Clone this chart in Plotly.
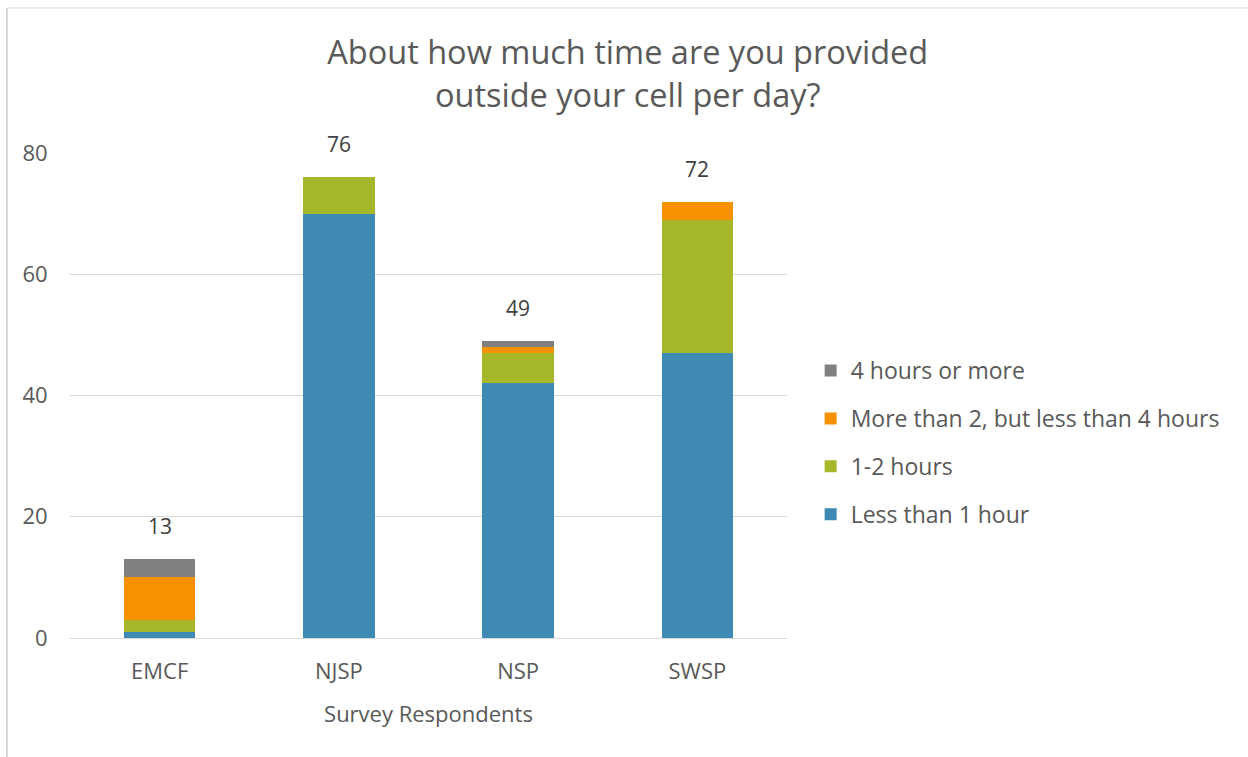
import plotly.graph_objects as go

categories = ["EMCF", "NJSP", "NSP", "SWSP"]
less_than_1 = [1, 70, 42, 47]
one_to_two = [2, 6, 5, 22]
two_to_four = [7, 0, 1, 3]
four_plus = [3, 0, 1, 0]
series_names = ["Less than 1 hour", "1-2 hours", "More than 2, but less than 4 hours", "4 hours or more"]
colors = ["#3F8AB5", "#A6B72A", "#F79100", "#808080"]
y_ticks = [0, 20, 40, 60, 80]

series = [less_than_1, one_to_two, two_to_four, four_plus]
totals = [sum(v) for v in zip(*series)]

font_family = "Open Sans, Liberation Sans, sans-serif"
text_color = "#595959"

fig = go.Figure()
for i, (name, vals, col) in enumerate(zip(series_names, series, colors)):
    fig.add_trace(go.Bar(
        x=categories, y=vals, name=name, marker=dict(color=col, line=dict(width=0)),
        width=0.4, legendgroup=str(i), legendrank=len(series_names) - i,
        hoverinfo="x+y+name",
    ))

for c, t in zip(categories, totals):
    fig.add_annotation(x=c, y=t, text=str(t), showarrow=False, yanchor="middle",
                       yshift=33, font=dict(size=21, color="#404040", family=font_family))

fig.update_layout(
    barmode="stack",
    width=1248, height=757,
    paper_bgcolor="white", plot_bgcolor="white",
    margin=dict(l=70, r=461, t=153, b=119, autoexpand=False),
    title=dict(text="About how much time are you provided<br>outside your cell per day?",
               x=0.503, xanchor="center", y=0.915, yanchor="top",
               font=dict(size=32.5, color=text_color, family=font_family)),
    font=dict(family=font_family, color=text_color),
    legend=dict(x=1.033, xanchor="left", y=0.403, yanchor="middle",
                traceorder="grouped", tracegroupgap=15,
                font=dict(size=23, color=text_color, family=font_family),
                itemwidth=30, bgcolor="rgba(0,0,0,0)"),
    showlegend=True,
    shapes=[
        dict(type="line", xref="paper", yref="paper", x0=-0.0879, x1=-0.0879,
             y0=-0.3, y1=1.299, line=dict(color="#D9D9D9", width=2)),
        dict(type="line", xref="paper", yref="paper", x0=-0.0879, x1=1.8,
             y0=1.299, y1=1.299, line=dict(color="#D9D9D9", width=1)),
    ],
)
fig.update_xaxes(showgrid=False, showline=True, linecolor="#D9D9D9", linewidth=1,
                 tickfont=dict(size=22, color=text_color), ticks="outside", tickcolor="white", ticklen=14,
                 title=dict(text="Survey Respondents", font=dict(size=22, color=text_color), standoff=22))
fig.update_yaxes(range=[0, 80], tickvals=y_ticks, showgrid=True, gridcolor="#D9D9D9", gridwidth=1,
                 zeroline=False, showline=False, tickfont=dict(size=22, color=text_color),
                 ticks="outside", tickcolor="white", ticklen=17)

fig.write_html("out.html")
